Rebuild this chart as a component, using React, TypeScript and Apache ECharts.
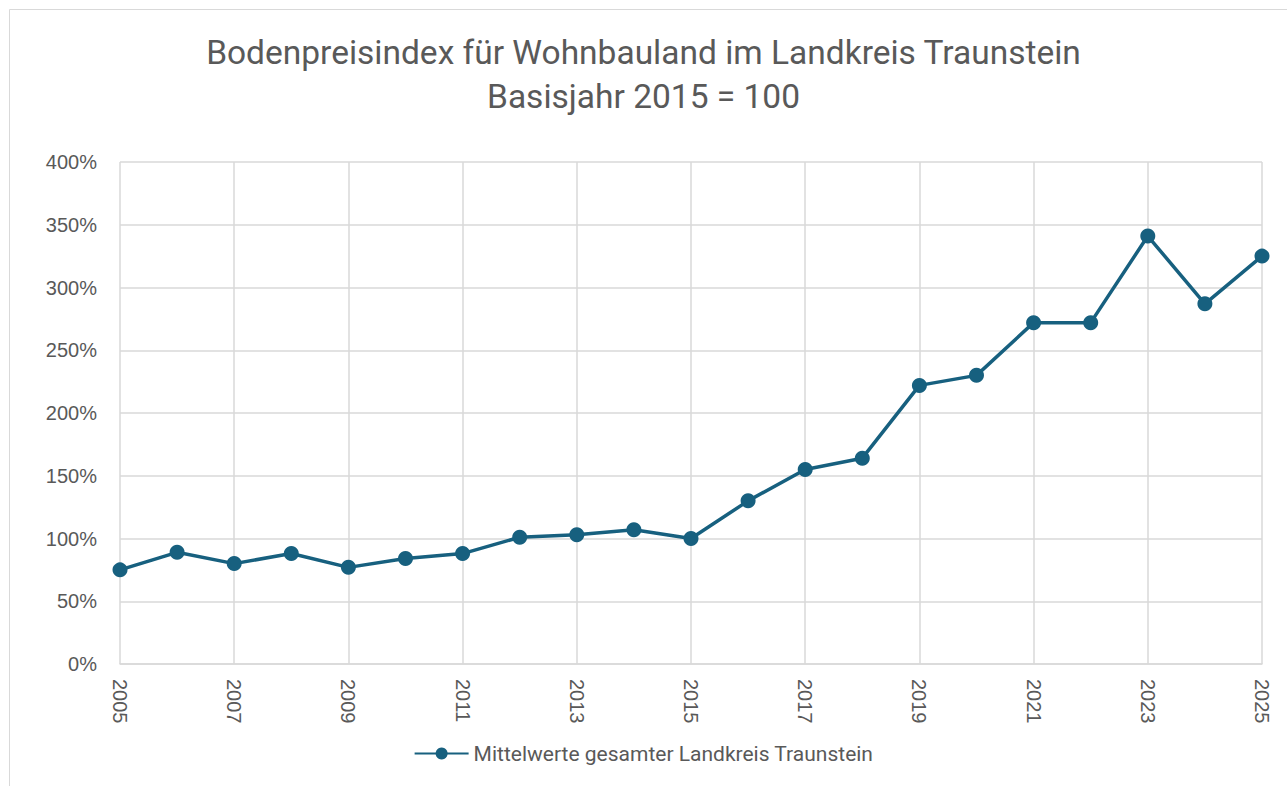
import React, { useEffect, useRef } from "react";
import * as echarts from "echarts";

const years = ["2005","2006","2007","2008","2009","2010","2011","2012","2013","2014","2015","2016","2017","2018","2019","2020","2021","2022","2023","2024","2025"];
const values = [75, 89, 80, 88, 77, 84, 88, 101, 103, 107, 100, 130, 155, 164, 222, 230, 272, 272, 341, 287, 325];
const seriesName = "Mittelwerte gesamter Landkreis Traunstein";
const titleLines = ["Bodenpreisindex für Wohnbauland im Landkreis Traunstein", "Basisjahr 2015 = 100"];

export default function App() {
  const ref = useRef<HTMLDivElement>(null);
  useEffect(() => {
    if (!ref.current) return;
    const chart = echarts.init(ref.current, null, { renderer: "svg" });
    const color = "#17607f";
    chart.setOption({
      animation: false,
      backgroundColor: "#ffffff",
      graphic: [
        { type: "rect", shape: { x: 9.5, y: 9.5, width: 1300, height: 800 }, style: { fill: "none", stroke: "#d9d9d9", lineWidth: 1 }, z: -1 },
      ],
      title: {
        text: titleLines.join("\n"),
        left: "center",
        top: 25,
        textStyle: { fontFamily: "Roboto, sans-serif", fontSize: 33.5, fontWeight: "normal", color: "#595959", lineHeight: 44 },
      },
      legend: {
        bottom: 17,
        left: "center",
        itemWidth: 54,
        itemHeight: 15,
        itemGap: 8,
        textStyle: { fontFamily: "Roboto, sans-serif", fontSize: 21, color: "#595959" },
        data: [seriesName],
      },
      grid: { left: 120, right: 25, top: 162, bottom: 122, containLabel: false },
      xAxis: {
        type: "category",
        data: years,
        boundaryGap: false,
        axisLine: { show: true, lineStyle: { color: "#d9d9d9", width: 1.5 } },
        axisTick: { show: false },
        axisLabel: { interval: 1, rotate: -90, color: "#595959", fontFamily: "Liberation Sans, Arial, sans-serif", fontSize: 20, margin: 15 },
        splitLine: { show: true, interval: 1, lineStyle: { color: "#d9d9d9", width: 1.5 } },
      },
      yAxis: {
        type: "value",
        min: 0,
        max: 400,
        interval: 50,
        axisLine: { show: false },
        axisTick: { show: false },
        axisLabel: { formatter: "{value}%", color: "#595959", fontFamily: "Liberation Sans, Arial, sans-serif", fontSize: 20, margin: 23 },
        splitLine: { show: true, lineStyle: { color: "#d9d9d9", width: 1.5 } },
      },
      series: [
        {
          name: seriesName,
          type: "line",
          data: values,
          symbol: "circle",
          symbolSize: 15,
          lineStyle: { color, width: 3.5 },
          itemStyle: { color },
          emphasis: { disabled: true },
        },
      ],
    });
    return () => chart.dispose();
  }, []);
  return <div ref={ref} style={{ width: 1287, height: 786, position: "absolute", left: 0, top: 0 }} />;
}
